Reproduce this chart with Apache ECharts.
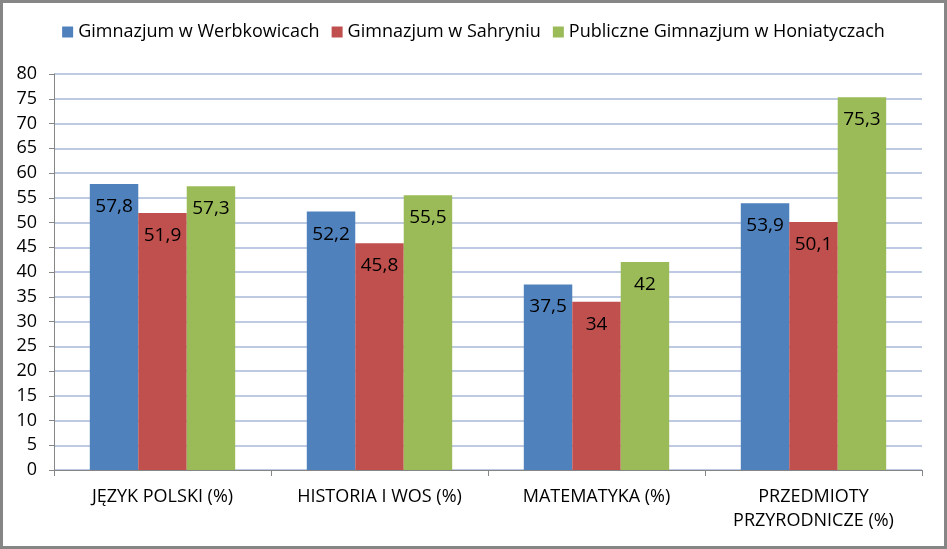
<!DOCTYPE html>
<html><head><meta charset="utf-8">
<script src="https://cdn.jsdelivr.net/npm/echarts@6/dist/echarts.min.js"></script>
<style>
html,body{margin:0;padding:0;background:#fff;}
#c{width:947px;height:549px;box-sizing:border-box;border:3px solid #868686;}
</style></head>
<body><div id="c"></div>
<script>
const categories = ['JĘZYK POLSKI (%)', 'HISTORIA I WOS (%)', 'MATEMATYKA (%)', 'PRZEDMIOTY\nPRZYRODNICZE (%)'];
const seriesNames = ['Gimnazjum w Werbkowicach', 'Gimnazjum w Sahryniu', 'Publiczne Gimnazjum w Honiatyczach'];
const werbkowice = [57.8, 52.2, 37.5, 53.9];
const sahryn = [51.9, 45.8, 34, 50.1];
const honiatycze = [57.3, 55.5, 42, 75.3];
const colors = ['#4F81BD', '#C0504D', '#9BBB59'];
const FONT = 'Open Sans';

const chart = echarts.init(document.getElementById('c'));
const fmt = p => String(p.value).replace('.', ',');
const mk = (name, data, color) => ({
  name, type: 'bar', data, barGap: '0%', barCategoryGap: '33%',
  itemStyle: {color},
  label: {show: true, position: 'insideTop', distance: 13, formatter: fmt,
    color: '#000', fontSize: 19, fontFamily: FONT}
});
chart.setOption({
  animation: false,
  textStyle: {fontFamily: FONT},
  legend: {top: 15, left: 'center', itemWidth: 11, itemHeight: 11, itemGap: 12,
    icon: 'rect', textStyle: {fontSize: 18, color: '#000', fontFamily: FONT},
    data: seriesNames},
  grid: {left: 51, right: 22, top: 71, bottom: 76, containLabel: false},
  xAxis: {type: 'category', data: categories,
    axisLine: {lineStyle: {color: '#868686'}},
    axisTick: {show: true, length: 6, lineStyle: {color: '#868686'}},
    axisLabel: {fontSize: 18, color: '#000', margin: 15, lineHeight: 24, fontFamily: FONT}},
  yAxis: {type: 'value', min: 0, max: 80, interval: 5,
    axisLine: {show: true, lineStyle: {color: '#868686'}},
    axisTick: {show: true, length: 5, lineStyle: {color: '#868686'}},
    axisLabel: {fontSize: 18, color: '#000', margin: 17, fontFamily: FONT},
    splitLine: {lineStyle: {color: '#A9B8D9', width: 1.5}}},
  series: [mk(seriesNames[0], werbkowice, colors[0]), mk(seriesNames[1], sahryn, colors[1]), mk(seriesNames[2], honiatycze, colors[2])]
});
</script></body></html>
